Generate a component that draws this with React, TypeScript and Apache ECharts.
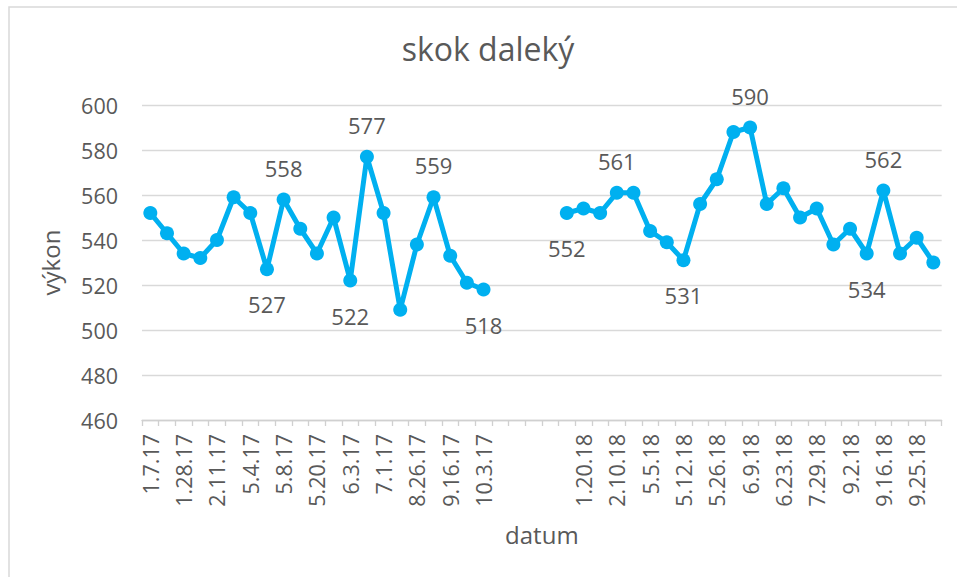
import React, { useEffect, useRef } from "react";
import * as echarts from "echarts";

const categories: string[] = [
  "1.7.17", "", "1.28.17", "", "2.11.17", "", "5.4.17", "", "5.8.17", "", "5.20.17", "",
  "6.3.17", "", "7.1.17", "", "8.26.17", "", "9.16.17", "", "10.3.17", "", "", "", "",
  "", "1.20.18", "", "2.10.18", "", "5.5.18", "", "5.12.18", "", "5.26.18", "", "6.9.18",
  "", "6.23.18", "", "7.29.18", "", "9.2.18", "", "9.16.18", "", "9.25.18", "",
];

const values: (number | null)[] = [
  552, 543, 534, 532, 540, 559, 552, 527, 558, 545, 534, 550, 522, 577, 552, 509, 538,
  559, 533, 521, 518,
  null, null, null, null,
  552, 554, 552, 561, 561, 544, 539, 531, 556, 567, 588, 590, 556, 563, 550, 554, 538,
  545, 534, 562, 534, 541, 530,
];

// data label placement per point ("" = no label)
const labelPositions: string[] = [
  "", "", "", "", "", "", "", "bottom", "top", "", "", "", "bottom", "top", "", "", "",
  "top", "", "", "bottom",
  "", "", "", "",
  "bottom", "", "", "top", "", "", "", "bottom", "", "", "", "top", "", "", "", "", "",
  "", "bottom", "top", "", "", "",
];

const yTicks = { min: 460, max: 600, interval: 20 };

const FONT = "'Open Sans', 'Noto Sans', sans-serif";
const TEXT = "#595959";
const LINE = "#00B0F0";

export default function App() {
  const ref = useRef<HTMLDivElement>(null);
  useEffect(() => {
    document.body.style.margin = "0";
    if (!ref.current) return;
    const chart = echarts.init(ref.current, null, { renderer: "svg" });
    const data = values.map((v, i) => {
      const pos = labelPositions[i];
      return pos
        ? { value: v, label: { show: true, position: pos, distance: pos === "top" ? 14 : 17 } }
        : { value: v };
    });
    chart.setOption({
      animation: false,
      backgroundColor: "#ffffff",
      textStyle: { fontFamily: FONT },
      title: {
        text: "skok daleký",
        left: 488,
        top: 32,
        textAlign: "center",
        padding: 0,
        textStyle: { fontFamily: FONT, fontSize: 32, fontWeight: "normal", color: TEXT },
      },
      grid: { left: 142, right: 15.33, top: 105, bottom: 157 },
      xAxis: {
        type: "category",
        data: categories,
        boundaryGap: true,
        name: "datum",
        nameLocation: "middle",
        nameGap: 102,
        nameTextStyle: { fontFamily: FONT, fontSize: 24, color: TEXT },
        axisLine: { lineStyle: { color: "#d0d0d0", width: 1.3 } },
        axisTick: { show: true, interval: 0, length: 6, lineStyle: { color: "#d0d0d0", width: 1.3 } },
        axisLabel: {
          interval: 1,
          rotate: 90,
          margin: 14,
          fontFamily: FONT,
          fontSize: 21.5,
          color: TEXT,
        },
        splitLine: { show: false },
      },
      yAxis: {
        type: "value",
        min: yTicks.min,
        max: yTicks.max,
        interval: yTicks.interval,
        name: "výkon",
        nameLocation: "middle",
        nameGap: 80,
        nameTextStyle: { fontFamily: FONT, fontSize: 24, color: TEXT },
        axisLine: { show: false },
        axisTick: { show: false },
        axisLabel: { margin: 24, fontFamily: FONT, fontSize: 21.5, color: TEXT },
        splitLine: { lineStyle: { color: "#d9d9d9", width: 1.3 } },
      },
      series: [
        {
          type: "line",
          data,
          connectNulls: false,
          showAllSymbol: true,
          symbol: "circle",
          symbolSize: 14,
          lineStyle: { color: LINE, width: 5 },
          itemStyle: { color: LINE },
          labelLayout: { hideOverlap: false },
          label: {
            show: false,
            fontFamily: FONT,
            fontSize: 22,
            color: TEXT,
          },
        },
      ],
      graphic: [
        {
          type: "polyline",
          shape: { points: [[9, 577], [9, 7], [957, 7]] },
          style: { stroke: "#d9d9d9", lineWidth: 1.5, fill: "none" },
          silent: true,
        },
      ],
    });
    return () => chart.dispose();
  }, []);
  return <div ref={ref} style={{ width: 957, height: 577 }} />;
}
